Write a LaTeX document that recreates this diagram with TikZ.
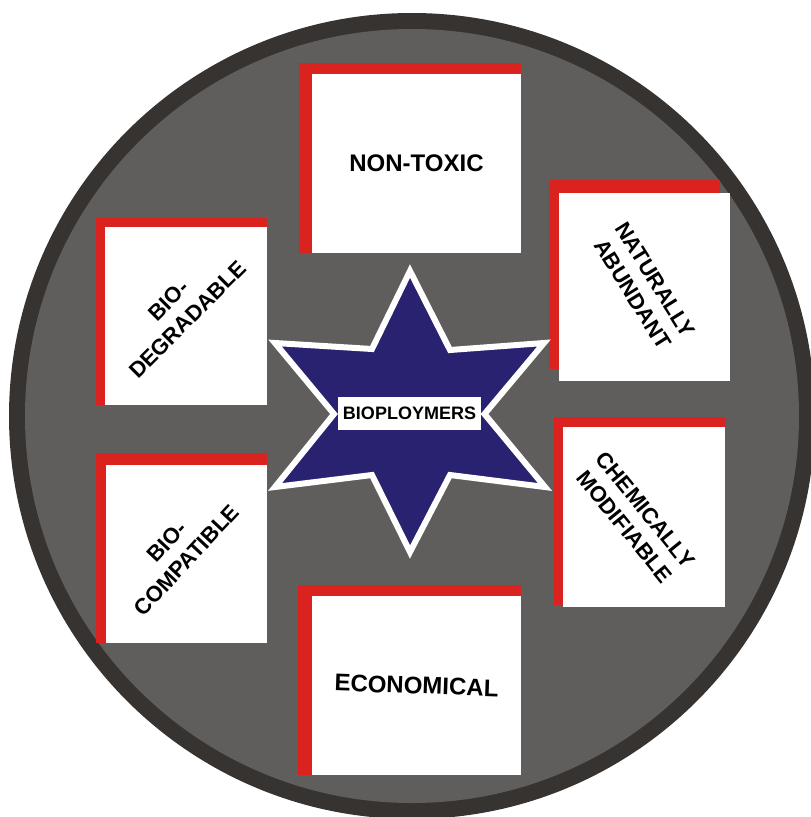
\documentclass[tikz,border=0pt]{standalone}
\usepackage{fontspec}
\setmainfont{Liberation Sans}
\definecolor{ringdark}{RGB}{55,51,49}
\definecolor{discgray}{RGB}{96,94,93}
\definecolor{boxred}{RGB}{218,34,30}
\definecolor{starnavy}{RGB}{40,34,112}
\tikzset{
  redbar/.style={fill=boxred},
  card/.style={fill=white, inner sep=0pt, outer sep=0pt, anchor=north west},
  cardtext/.style={font=\bfseries\fontsize{22}{27}\selectfont, align=center, text=black, inner sep=0pt},
  bigtext/.style={font=\bfseries\fontsize{24}{28}\selectfont, text=black, inner sep=0pt},
}
\begin{document}
\begin{tikzpicture}[x=1pt,y=-1pt]
\useasboundingbox (0,0) rectangle (811,817);
\clip (0,0) rectangle (811,817);
% disc
\fill[ringdark] (412,416) circle [radius=403pt];
\fill[discgray] (412,416) circle [radius=387pt];

% NON-TOXIC
\fill[redbar] (299,63) rectangle (521,253);
\node[card, minimum width=209pt, minimum height=179pt] (nontoxic) at (312,74) {};
\node[bigtext] (nontoxictxt) at (nontoxic.center) {NON-TOXIC};

% BIO-DEGRADABLE
\fill[redbar] (96,218) rectangle (267,405);
\node[card, minimum width=162pt, minimum height=178pt] (degrad) at (105,227) {};
\node[cardtext, rotate=45] (degradtxt) at (178,310) {BIO-\\DEGRADABLE};

% NATURALLY ABUNDANT
\fill[redbar] (549,180) rectangle (720,369);
\node[card, minimum width=171pt, minimum height=188pt] (natural) at (559,193) {};
\node[cardtext, rotate=-58] (naturaltxt) at (644,287) {NATURALLY\\ABUNDANT};

% BIO-COMPATIBLE
\fill[redbar] (96,453) rectangle (267,643);
\node[card, minimum width=161pt, minimum height=178pt] (compat) at (106,465) {};
\node[cardtext, rotate=47] (compattxt) at (177,551) {BIO-\\COMPATIBLE};

% CHEMICALLY MODIFIABLE
\fill[redbar] (554,417) rectangle (725,605);
\node[card, minimum width=162pt, minimum height=180pt] (chem) at (563,427) {};
\node[cardtext, rotate=-51] (chemtxt) at (635,518) {CHEMICALLY\\MODIFIABLE};

% ECONOMICAL
\fill[redbar] (298,585) rectangle (521,775);
\node[card, minimum width=209pt, minimum height=179pt] (econ) at (312,596) {};
\node[bigtext, rotate=-2] (econtxt) at (econ.center) {ECONOMICAL};

% star
\filldraw[fill=starnavy, draw=white, line width=6pt, line join=miter]
  (410,271) -- (450,350) -- (544,343) -- (484.5,414) -- (545,487) -- (450,475)
  -- (410,552) -- (372,475) -- (275,487) -- (334,414) -- (275,343) -- (372,349) -- cycle;

% centre label
\node[fill=white, inner sep=0pt, minimum width=143pt, minimum height=33pt,
      font=\bfseries\fontsize{18}{20}\selectfont] (bio) at (409.5,413.5) {BIOPLOYMERS};
\end{tikzpicture}
\end{document}
